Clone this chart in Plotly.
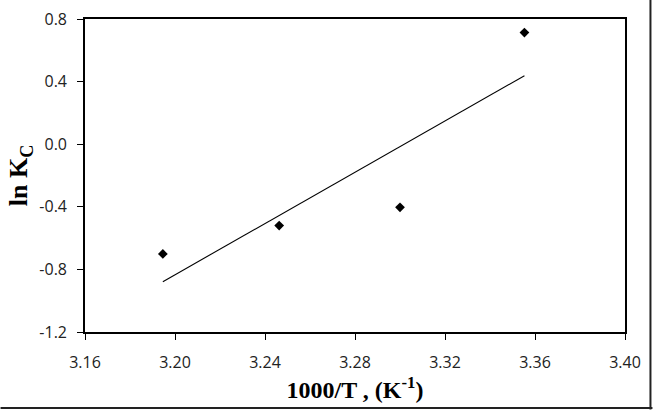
import numpy as np
import plotly.graph_objects as go

# Data
inv_T = [3.1946, 3.2463, 3.3000, 3.3553]   # 1000/T (K^-1)
ln_Kc = [-0.701, -0.520, -0.403, 0.713]     # ln Kc

x_ticks = [3.16, 3.20, 3.24, 3.28, 3.32, 3.36, 3.40]
y_ticks = [-1.2, -0.8, -0.4, 0.0, 0.4, 0.8]

# Linear trendline (least squares) through the data
slope, intercept = np.polyfit(inv_T, ln_Kc, 1)
fit_x = [min(inv_T), max(inv_T)]
fit_y = [slope * v + intercept for v in fit_x]

W, H = 653, 410
L, R, T, B = 84.6, 27.5, 19.4, 77.5
pw, ph = W - L - R, H - T - B

def px_to_paper_x(px):
    return (px - L) / pw

def px_to_paper_y(py):
    return (H - B - py) / ph

fig = go.Figure()
fig.add_trace(go.Scatter(x=fit_x, y=fit_y, mode="lines",
                         line=dict(color="black", width=1.1),
                         showlegend=False, hoverinfo="skip"))
fig.add_trace(go.Scatter(x=inv_T, y=ln_Kc, mode="markers",
                         marker=dict(symbol="diamond", size=7.5, color="black"),
                         showlegend=False))

tick_font = dict(family="Open Sans, Arial, sans-serif", size=16, color="#222")
title_font = dict(family="Liberation Serif, Times New Roman, serif", size=24, color="black")
ytitle_font = dict(family="Liberation Serif, Times New Roman, serif", size=26, color="black")

fig.update_layout(
    width=W, height=H,
    margin=dict(l=L, r=R, t=T, b=B, autoexpand=False),
    paper_bgcolor="white", plot_bgcolor="white",
    xaxis=dict(range=[3.16, 3.40], tickvals=x_ticks,
               ticktext=[f"{v:.2f}" for v in x_ticks],
               showgrid=False, zeroline=False,
               showline=True, linecolor="black", linewidth=1.6, mirror=True,
               ticks="outside", ticklen=6, tickwidth=1.4, tickcolor="black",
               tickfont=tick_font, ticklabelstandoff=9,
               title=dict(text="<b>1000/T , (K<sup>-1</sup>)</b>", font=title_font, standoff=6),
               automargin=False),
    yaxis=dict(range=[-1.2, 0.8], tickvals=y_ticks,
               ticktext=[f"{v:.1f}" for v in y_ticks],
               showgrid=False, zeroline=False,
               showline=True, linecolor="black", linewidth=1.6, mirror=True,
               ticks="outside", ticklen=6, tickwidth=1.4, tickcolor="black",
               tickfont=tick_font, ticklabelstandoff=7,
               title=dict(text="<b>ln K<sub>C</sub></b>", font=ytitle_font, standoff=4),
               automargin=False),
    shapes=[
        dict(type="line", xref="paper", yref="paper",
             x0=px_to_paper_x(651), x1=px_to_paper_x(651),
             y0=px_to_paper_y(0), y1=px_to_paper_y(410),
             line=dict(color="#222", width=2)),
        dict(type="line", xref="paper", yref="paper",
             x0=px_to_paper_x(0), x1=px_to_paper_x(653),
             y0=px_to_paper_y(408.5), y1=px_to_paper_y(408.5),
             line=dict(color="#222", width=2)),
    ],
)

fig.write_html("out.html")
